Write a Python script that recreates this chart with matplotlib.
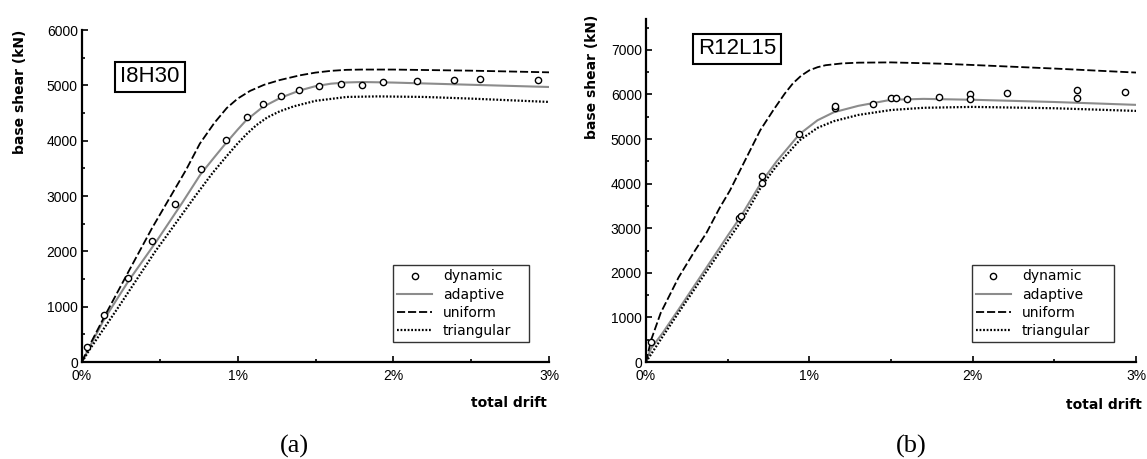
import matplotlib
matplotlib.use("Agg")
import matplotlib.pyplot as plt
from matplotlib.ticker import MultipleLocator, FuncFormatter

# ---------------- data: panel (a) I8H30 ----------------
a_dyn_x = [0.03, 0.14, 0.295, 0.448, 0.597, 0.762, 0.923, 1.058, 1.16, 1.276,
           1.394, 1.524, 1.663, 1.796, 1.933, 2.153, 2.391, 2.556, 2.927]
a_dyn_y = [270, 846, 1525, 2190, 2850, 3480, 4010, 4430, 4657, 4810,
           4918, 4988, 5024, 5000, 5054, 5072, 5102, 5108, 5096]

a_uni_x = [0, 0.032, 0.14, 0.3, 0.45, 0.56, 0.668, 0.757, 0.85, 0.93, 1.0,
           1.08, 1.17, 1.27, 1.4, 1.5, 1.6, 1.7, 1.8, 2.0, 2.5, 3.0]
a_uni_y = [0, 210, 800, 1640, 2420, 2950, 3470, 3946, 4320, 4590, 4760,
           4900, 5010, 5095, 5181, 5230, 5262, 5280, 5285, 5285, 5265, 5235]

a_ada_x = [0, 0.032, 0.14, 0.214, 0.3, 0.478, 0.642, 0.761, 0.85, 0.92, 1.0,
           1.054, 1.161, 1.277, 1.402, 1.5, 1.6, 1.7, 1.8, 2.0, 2.5, 3.0]
a_ada_y = [0, 180, 760, 1090, 1470, 2180, 2870, 3390, 3700, 3940, 4200,
           4367, 4608, 4777, 4910, 4985, 5030, 5052, 5060, 5050, 5010, 4970]

a_tri_x = [0, 0.05, 0.236, 0.471, 0.6, 0.728, 0.84, 0.92, 1.0, 1.058, 1.12,
           1.19, 1.27, 1.36, 1.5, 1.7, 1.9, 2.2, 2.5, 3.0]
a_tri_y = [0, 230, 1000, 2000, 2500, 3000, 3420, 3690, 3950, 4120, 4280,
           4420, 4530, 4620, 4720, 4790, 4800, 4790, 4760, 4700]

# ---------------- data: panel (b) R12L15 ----------------
b_dyn_x = [0.029, 0.57, 0.58, 0.709, 0.709, 0.936, 1.155, 1.16, 1.388, 1.503,
           1.529, 1.598, 1.794, 1.986, 1.986, 2.208, 2.636, 2.636, 2.934]
b_dyn_y = [456, 3240, 3270, 4180, 4023, 5122, 5700, 5730, 5796, 5916,
           5916, 5894, 5946, 6006, 5908, 6035, 6096, 5930, 6043]

b_uni_x = [0, 0.03, 0.09, 0.2, 0.3, 0.371, 0.45, 0.514, 0.637, 0.7, 0.78,
           0.85, 0.9, 0.95, 1.0, 1.05, 1.1, 1.2, 1.3, 1.5, 1.8, 2.0, 2.5, 3.0]
b_uni_y = [0, 480, 1100, 1900, 2500, 2900, 3450, 3846, 4742, 5200, 5650,
           6020, 6250, 6420, 6540, 6610, 6655, 6695, 6712, 6718, 6690, 6660,
           6580, 6490]

b_ada_x = [0, 0.03, 0.1, 0.2, 0.3, 0.4, 0.5, 0.58, 0.71, 0.8, 0.94, 1.05,
           1.15, 1.3, 1.5, 1.7, 2.0, 2.5, 3.0]
b_ada_y = [0, 300, 640, 1180, 1730, 2280, 2830, 3260, 4050, 4500, 5110, 5420,
           5600, 5744, 5880, 5900, 5880, 5830, 5766]

b_tri_x = [0, 0.1, 0.2, 0.3, 0.4, 0.5, 0.6, 0.71, 0.8, 0.94, 1.05, 1.15,
           1.3, 1.5, 1.7, 2.0, 2.5, 3.0]
b_tri_y = [0, 560, 1110, 1650, 2190, 2720, 3250, 3960, 4400, 4970, 5250, 5400,
           5540, 5650, 5700, 5720, 5690, 5630]

x_ticks = [0, 1, 2, 3]
labels = ["dynamic", "adaptive", "uniform", "triangular"]

W, H = 1147, 459
fig = plt.figure(figsize=(W / 100, H / 100), dpi=100)
plt.rcParams['font.family'] = ['Liberation Sans', 'DejaVu Sans']


def px_axes(x0, x1, y0, y1):
    return fig.add_axes([x0 / W, 1 - y0 / H, (x1 - x0) / W, (y0 - y1) / H])


def style(ax, ymax, ystep):
    ax.set_xlim(0, 3)
    ax.set_ylim(0, ymax)
    for s in ("top", "right"):
        ax.spines[s].set_visible(False)
    for s in ("left", "bottom"):
        ax.spines[s].set_linewidth(1.6)
    ax.set_xticks(x_ticks)
    ax.xaxis.set_major_formatter(FuncFormatter(lambda v, p: f"{int(round(v))}%"))
    ax.xaxis.set_minor_locator(MultipleLocator(0.5))
    ax.yaxis.set_major_locator(MultipleLocator(ystep))
    ax.yaxis.set_minor_locator(MultipleLocator(ystep / 2))
    ax.tick_params(which="both", direction="in", width=1.2, labelsize=10)
    ax.tick_params(which="major", length=4)
    ax.tick_params(which="minor", length=2.5)
    ax.tick_params(axis="x", pad=5)
    ax.tick_params(axis="y", pad=3)


def draw(ax, dx, dy, ux, uy, adx, ady, tx, ty):
    ax.plot(adx, ady, color="#8c8c8c", lw=1.5, label=labels[1], zorder=2)
    ax.plot(ux, uy, color="black", lw=1.3, ls=(0, (4.5, 1.6)), label=labels[2], zorder=2)
    ax.plot(tx, ty, color="black", lw=1.6, ls=(0, (0.8, 0.8)), label=labels[3], zorder=2)
    ax.plot(dx, dy, ls="none", marker="o", ms=4.5, mfc="white", mec="black",
            mew=1.0, label=labels[0], zorder=3)
    h, l = ax.get_legend_handles_labels()
    order = [3, 0, 1, 2]
    return [h[i] for i in order], [l[i] for i in order]


def add_legend(ax, h, l, anchor):
    leg = ax.legend(h, l, loc="lower left", bbox_to_anchor=anchor, mode="expand",
                    borderaxespad=0, fancybox=False, framealpha=1,
                    edgecolor="#333333", prop={"family": "DejaVu Sans", "size": 10},
                    handlelength=2.5, labelspacing=0.3, borderpad=0.3,
                    handletextpad=0.8)
    leg.get_frame().set_linewidth(1.0)


# panel (a)
ax1 = px_axes(82, 549, 362, 30)
style(ax1, 6000, 1000)
h, l = draw(ax1, a_dyn_x, a_dyn_y, a_uni_x, a_uni_y, a_ada_x, a_ada_y, a_tri_x, a_tri_y)
add_legend(ax1, h, l, (0.666, 0.06, 0.291, 0.2))
ax1.text(150 / W, 1 - 77 / H, "I8H30", transform=fig.transFigure, fontsize=16,
         ha="center", va="center",
         bbox=dict(boxstyle="square,pad=0.22", fc="white", ec="black", lw=1.5))

# panel (b)
ax2 = px_axes(646, 1136, 362, 18.6)
style(ax2, 7700, 1000)
h, l = draw(ax2, b_dyn_x, b_dyn_y, b_uni_x, b_uni_y, b_ada_x, b_ada_y, b_tri_x, b_tri_y)
add_legend(ax2, h, l, (0.665, 0.058, 0.290, 0.2))
ax2.text(737 / W, 1 - 49 / H, "R12L15", transform=fig.transFigure, fontsize=16,
         ha="center", va="center",
         bbox=dict(boxstyle="square,pad=0.22", fc="white", ec="black", lw=1.5))

# axis titles
for (xc, yc) in [(20, 92), (592, 77)]:
    fig.text(xc / W, 1 - yc / H, "base shear (kN)", rotation=90, ha="center",
             va="center", fontsize=10, fontweight="bold", family="DejaVu Sans")
for (xr, yc) in [(547, 403), (1142, 405)]:
    fig.text(xr / W, 1 - yc / H, "total drift", ha="right", va="center",
             fontsize=10, fontweight="bold", family="DejaVu Sans")

# captions
for (xc, txt) in [(294, "(a)"), (911, "(b)")]:
    fig.text(xc / W, 1 - 446 / H, txt, ha="center", va="center", fontsize=19,
             family="Liberation Serif")

fig.savefig("out.png", dpi=100)
